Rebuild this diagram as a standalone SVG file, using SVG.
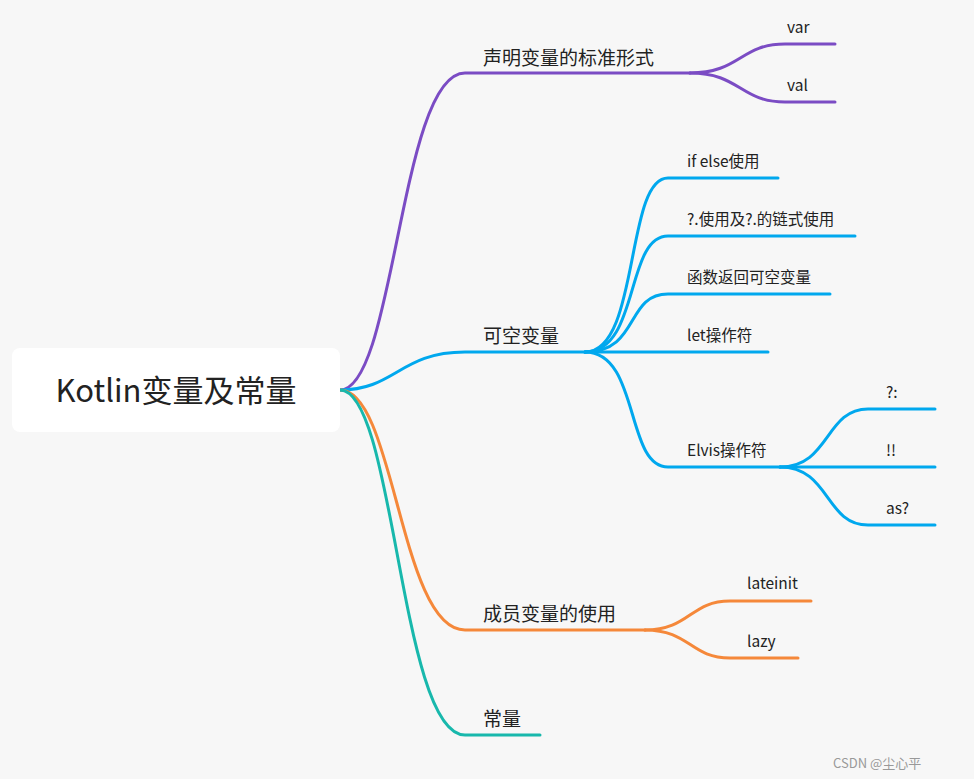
<svg xmlns="http://www.w3.org/2000/svg" width="974" height="779" viewBox="0 0 974 779">
<style>
.l{fill:none;stroke-width:3;stroke-linecap:round}
.p{stroke:#7b4cc4}.b{stroke:#00a8ee}.o{stroke:#f5883a}.t{stroke:#18b8ac}
text{font-family:"Noto Sans CJK SC","Noto Sans",sans-serif;fill:#222}
.m{font-size:19px}.s{font-size:15.5px}
</style>
<rect width="974" height="779" fill="#f7f7f7"/>
<g id="connectors">
<path class="l p" d="M340,390 C395,390 400,73 465,73 H690"/>
<path class="l p" d="M690,73 C740,73 740,44 785,44 H835"/>
<path class="l p" d="M690,73 C740,73 740,102 785,102 H835"/>
<path class="l b" d="M340,390 C395,390 400,352 465,352 H585"/>
<path class="l b" d="M585,352 C640,352 625,178 668,178 H778"/>
<path class="l b" d="M585,352 C640,352 625,236 668,236 H855"/>
<path class="l b" d="M585,352 C640,352 625,294 668,294 H830"/>
<path class="l b" d="M585,352 H768"/>
<path class="l b" d="M585,352 C640,352 625,467 668,467 H780"/>
<path class="l b" d="M780,467 C830,467 825,409 868,409 H935"/>
<path class="l b" d="M780,467 H935"/>
<path class="l b" d="M780,467 C830,467 825,525 868,525 H935"/>
<path class="l o" d="M340,390 C395,390 400,630 465,630 H645"/>
<path class="l o" d="M645,630 C690,630 690,601 730,601 H811"/>
<path class="l o" d="M645,630 C690,630 690,658 730,658 H798"/>
<path class="l t" d="M340,390 C395,390 400,735 465,735 H540"/>
</g>
<g id="root"><rect x="12" y="348" width="328" height="84" rx="8" fill="#fff"/><text x="176" y="402" font-size="31" text-anchor="middle">Kotlin变量及常量</text></g>
<g id="n1"><text class="m" x="483" y="65">声明变量的标准形式</text></g>
<g id="n1a"><text class="s" x="787" y="33">var</text></g>
<g id="n1b"><text class="s" x="787" y="91">val</text></g>
<g id="n2"><text class="m" x="483" y="343">可空变量</text></g>
<g id="n2a"><text class="s" x="687" y="167">if else使用</text></g>
<g id="n2b"><text class="s" x="687" y="225">?.使用及?.的链式使用</text></g>
<g id="n2c"><text class="s" x="687" y="283">函数返回可空变量</text></g>
<g id="n2d"><text class="s" x="687" y="341">let操作符</text></g>
<g id="n2e"><text class="s" x="687" y="456">Elvis操作符</text></g>
<g id="n2e1"><text class="s" x="886" y="398">?:</text></g>
<g id="n2e2"><text class="s" x="886" y="456">!!</text></g>
<g id="n2e3"><text class="s" x="886" y="514">as?</text></g>
<g id="n3"><text class="m" x="483" y="621">成员变量的使用</text></g>
<g id="n3a"><text class="s" x="747" y="589">lateinit</text></g>
<g id="n3b"><text class="s" x="747" y="647">lazy</text></g>
<g id="n4"><text class="m" x="483" y="726">常量</text></g>
<text x="833" y="768" font-size="13" style="fill:#999">CSDN @尘心平</text>
</svg>
